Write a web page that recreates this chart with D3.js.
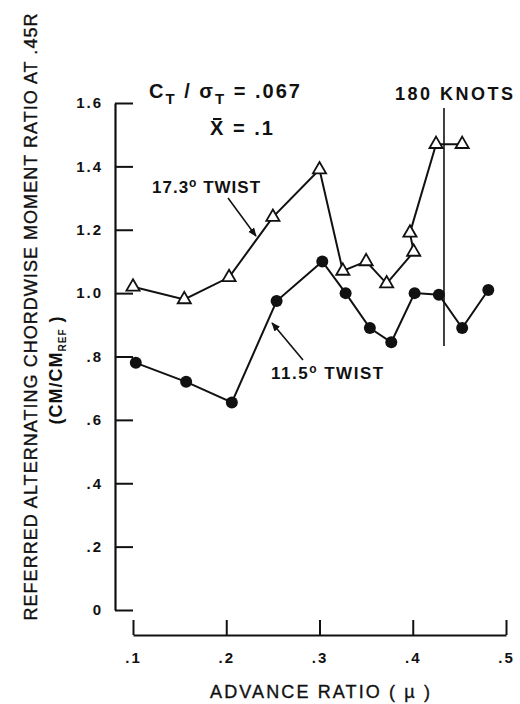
<!DOCTYPE html>
<html>
<head>
<meta charset="utf-8">
<script src="https://cdn.jsdelivr.net/npm/d3@7"></script>
<style>
  body { margin: 0; background: #fff; }
  text { font-family: "Liberation Sans", Arial, sans-serif; fill: #111; }
  .heavy { stroke: #111; stroke-width: 0.35px; }
</style>
</head>
<body>
<div id="chart"></div>
<script>
// 17.3 deg twist (open triangles), in drawing order
const twist173Mu    = [0.100, 0.155, 0.203, 0.250, 0.300, 0.325, 0.350, 0.372, 0.401, 0.397, 0.425, 0.453];
const twist173Ratio = [1.02, 0.98, 1.05, 1.24, 1.39, 1.07, 1.10, 1.03, 1.13, 1.19, 1.47, 1.47];
// 11.5 deg twist (filled circles)
const twist115Mu    = [0.103, 0.157, 0.206, 0.254, 0.303, 0.328, 0.354, 0.377, 0.402, 0.428, 0.453, 0.481];
const twist115Ratio = [0.78, 0.72, 0.655, 0.975, 1.10, 1.00, 0.89, 0.845, 1.00, 0.995, 0.89, 1.01];

const xTicks = [0.1, 0.2, 0.3, 0.4, 0.5];
const xTickLabels = [".1", ".2", ".3", ".4", ".5"];
const yTicks = [0, 0.2, 0.4, 0.6, 0.8, 1.0, 1.2, 1.4, 1.6];
const yTickLabels = ["0", ".2", ".4", ".6", ".8", "1.0", "1.2", "1.4", "1.6"];

// 180 knots marker
const knotsMu = 0.4335;
const knotsRatio = [0.833, 1.584];

const W = 520, H = 704;
const svg = d3.select("#chart").append("svg")
  .attr("width", W).attr("height", H);

svg.append("defs").append("marker")
  .attr("id", "head")
  .attr("viewBox", "0 0 10 10")
  .attr("refX", 9).attr("refY", 5)
  .attr("markerWidth", 9).attr("markerHeight", 9)
  .attr("markerUnits", "userSpaceOnUse")
  .attr("orient", "auto")
  .append("path").attr("d", "M0,1 L10,5 L0,9 Z").attr("fill", "#111");

const x = d3.scaleLinear().domain([0.1, 0.5]).range([133, 506]);
const y = d3.scaleLinear().domain([0, 1.6]).range([610, 103]);

// axes
const yAxisG = svg.append("g")
  .attr("transform", "translate(115,0)")
  .call(d3.axisLeft(y).tickValues(yTicks)
    .tickFormat((d, i) => yTickLabels[i])
    .tickSize(-18).tickSizeOuter(0).tickPadding(12));

const xAxisG = svg.append("g")
  .attr("transform", "translate(0,635)")
  .call(d3.axisBottom(x).tickValues(xTicks)
    .tickFormat((d, i) => xTickLabels[i])
    .tickSize(-15).tickSizeOuter(0).tickPadding(17));

[yAxisG, xAxisG].forEach(g => {
  g.select(".domain").attr("stroke", "#111").attr("stroke-width", 2.2);
  g.selectAll(".tick line").attr("stroke", "#111").attr("stroke-width", 2);
  g.selectAll(".tick text")
    .attr("fill", "#111")
    .style("font-size", "15px").style("font-weight", "bold")
    .style("letter-spacing", "2px");
});

// axis titles
svg.append("text").attr("class", "heavy")
  .attr("x", 320).attr("y", 698)
  .attr("text-anchor", "middle")
  .attr("textLength", 220).attr("lengthAdjust", "spacing")
  .style("font-size", "18px")
  .text("ADVANCE RATIO ( \u00b5 )");

svg.append("text").attr("class", "heavy")
  .attr("transform", "translate(37,317) rotate(-90)")
  .attr("text-anchor", "middle")
  .attr("textLength", 607).attr("lengthAdjust", "spacing")
  .style("font-size", "18px")
  .text("REFERRED ALTERNATING CHORDWISE MOMENT RATIO AT .45R");

const sub = svg.append("text")
  .attr("transform", "translate(62,370) rotate(-90)")
  .attr("text-anchor", "middle")
  .style("font-size", "18px").style("font-weight", "bold").style("letter-spacing", "1px");
sub.append("tspan").text("(CM/CM");
sub.append("tspan").attr("dy", 4).style("font-size", "10px").text("REF");
sub.append("tspan").attr("dy", -4).text(" )");

// 180 knots line
svg.append("line")
  .attr("x1", x(knotsMu)).attr("x2", x(knotsMu))
  .attr("y1", y(knotsRatio[0])).attr("y2", y(knotsRatio[1]))
  .attr("stroke", "#111").attr("stroke-width", 1.6);

// series
const line = d3.line().x(d => x(d[0])).y(d => y(d[1]));
const pts173 = twist173Mu.map((m, i) => [m, twist173Ratio[i]]);
const pts115 = twist115Mu.map((m, i) => [m, twist115Ratio[i]]);

[pts173, pts115].forEach(p => {
  svg.append("path").datum(p)
    .attr("d", line)
    .attr("fill", "none").attr("stroke", "#111").attr("stroke-width", 2);
});

svg.selectAll(".dot").data(pts115).enter()
  .append("circle").attr("class", "dot")
  .attr("cx", d => x(d[0])).attr("cy", d => y(d[1]))
  .attr("r", 6).attr("fill", "#111");

svg.selectAll(".tri").data(pts173).enter()
  .append("path").attr("class", "tri")
  .attr("transform", d => `translate(${x(d[0])},${y(d[1])})`)
  .attr("d", d3.symbol(d3.symbolTriangle, 75))
  .attr("fill", "#fff").attr("stroke", "#111").attr("stroke-width", 1.8);

// annotations
svg.append("text")
  .attr("x", x(0.4442)).attr("y", y(1.609))
  .attr("text-anchor", "middle")
  .attr("textLength", 118).attr("lengthAdjust", "spacing")
  .style("font-size", "18px").style("font-weight", "bold")
  .text("180 KNOTS");

const ct = svg.append("text")
  .attr("x", x(0.1172)).attr("y", y(1.615))
  .style("font-size", "20px").style("font-weight", "bold")
  .style("letter-spacing", "2px");
ct.append("tspan").text("C");
ct.append("tspan").attr("dy", 6).style("font-size", "15px").text("T");
ct.append("tspan").attr("dy", -6).text(" / \u03c3");
ct.append("tspan").attr("dy", 6).style("font-size", "15px").text("T");
ct.append("tspan").attr("dy", -6).text(" = .067");

const xb = svg.append("text")
  .attr("x", x(0.1826)).attr("y", y(1.499))
  .style("font-size", "20px").style("font-weight", "bold")
  .style("letter-spacing", "2px");
xb.append("tspan").text("X");
xb.append("tspan").text(" = .1");
const xbBox = xb.node().getExtentOfChar(0);
svg.append("line")
  .attr("x1", xbBox.x + 3).attr("x2", xbBox.x + xbBox.width - 4)
  .attr("y1", xbBox.y + 2).attr("y2", xbBox.y + 2)
  .attr("stroke", "#111").attr("stroke-width", 2);

const t173 = svg.append("text")
  .attr("x", x(0.1204)).attr("y", y(1.316))
  .style("font-size", "17px").style("font-weight", "bold")
  .style("letter-spacing", "1px");
t173.append("tspan").text("17.3");
t173.append("tspan").attr("dy", -6).style("font-size", "12px").text("o");
t173.append("tspan").attr("dy", 6).text(" TWIST");

const t115 = svg.append("text")
  .attr("x", x(0.2480)).attr("y", y(0.729))
  .style("font-size", "17px").style("font-weight", "bold")
  .style("letter-spacing", "1.5px");
t115.append("tspan").text("11.5");
t115.append("tspan").attr("dy", -6).style("font-size", "12px").text("o");
t115.append("tspan").attr("dy", 6).text(" TWIST");

const arrows = [
  [[0.2019, 1.300], [0.2319, 1.180]],
  [[0.2823, 0.789], [0.2491, 0.906]]
];
svg.selectAll(".arrow").data(arrows).enter()
  .append("line").attr("class", "arrow")
  .attr("x1", d => x(d[0][0])).attr("y1", d => y(d[0][1]))
  .attr("x2", d => x(d[1][0])).attr("y2", d => y(d[1][1]))
  .attr("stroke", "#111").attr("stroke-width", 1.6)
  .attr("marker-end", "url(#head)");
</script>
</body>
</html>
